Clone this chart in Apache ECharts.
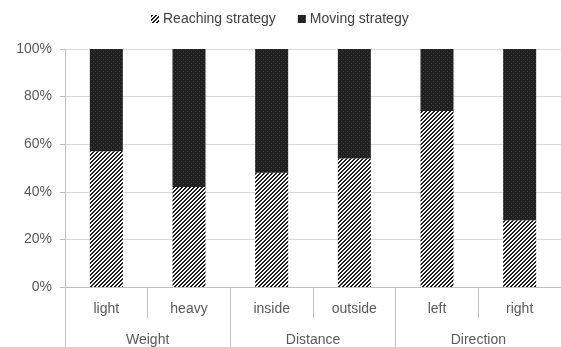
<!DOCTYPE html>
<html>
<head>
<meta charset="utf-8">
<script src="https://cdn.jsdelivr.net/npm/echarts@6/dist/echarts.min.js"></script>
<style>
  html, body { margin: 0; padding: 0; background: #fff; }
  #chart { width: 561px; height: 347px; }
</style>
</head>
<body>
<div id="chart"></div>
<script>
// Conditions and their grouping
const categories = ['light', 'heavy', 'inside', 'outside', 'left', 'right'];
const groups = ['Weight', 'Distance', 'Direction'];
// Share of trials (%) per strategy
const reaching = [57, 42, 48, 54, 74, 28];
const moving = [43, 58, 52, 46, 26, 72];
const yTicks = [0, 20, 40, 60, 80, 100];

// Diagonal hatch tile
function hatchPattern() {
  const c = document.createElement('canvas');
  c.width = 4; c.height = 4;
  const ctx = c.getContext('2d');
  ctx.fillStyle = '#ffffff';
  ctx.fillRect(0, 0, 4, 4);
  ctx.fillStyle = '#1e1e1e';
  for (let x = 0; x < 4; x++) {
    for (let y = 0; y < 4; y++) {
      if ((x + y) % 4 === 0 || (x + y) % 4 === 1) ctx.fillRect(x, y, 1, 1);
    }
  }
  return c;
}
// Dark fill with faint dots
function dotPattern() {
  const c = document.createElement('canvas');
  c.width = 4; c.height = 4;
  const ctx = c.getContext('2d');
  ctx.fillStyle = '#202020';
  ctx.fillRect(0, 0, 4, 4);
  ctx.fillStyle = '#3c3c3c';
  ctx.fillRect(1, 1, 1, 1);
  ctx.fillRect(3, 3, 1, 1);
  return c;
}

const font = 'Liberation Sans';
const chart = echarts.init(document.getElementById('chart'), null, { renderer: 'canvas' });
chart.setOption({
  animation: false,
  backgroundColor: '#ffffff',
  textStyle: { fontFamily: font },
  legend: {
    top: 7,
    left: 146,
    itemWidth: 8,
    itemHeight: 8,
    itemGap: 22,
    icon: 'rect',
    textStyle: { fontFamily: font, fontSize: 14, color: '#404040', padding: [0, 0, 0, -1] },
    data: ['Reaching strategy', 'Moving strategy']
  },
  grid: { left: 65, right: 0, top: 49, bottom: 60 },
  xAxis: [
    {
      type: 'category',
      data: categories,
      position: 'bottom',
      axisLine: { lineStyle: { color: '#bfbfbf', width: 1 } },
      axisTick: { show: true, interval: 0, length: 31, lineStyle: { color: '#bfbfbf' } },
      axisLabel: { interval: 0, margin: 15, fontSize: 14, color: '#595959', fontFamily: font }
    },
    {
      type: 'category',
      data: groups,
      position: 'bottom',
      offset: 31,
      axisLine: { show: false },
      axisTick: { show: true, interval: 0, length: 30, lineStyle: { color: '#bfbfbf' } },
      axisLabel: { interval: 0, margin: 15, fontSize: 14, color: '#595959', fontFamily: font }
    }
  ],
  yAxis: {
    type: 'value',
    min: yTicks[0],
    max: yTicks[yTicks.length - 1],
    interval: yTicks[1] - yTicks[0],
    axisLine: { show: true, lineStyle: { color: '#bfbfbf' } },
    axisTick: { show: true, length: 5, lineStyle: { color: '#bfbfbf' } },
    axisLabel: { formatter: '{value}%', fontSize: 14, color: '#595959', margin: 13, fontFamily: font },
    splitLine: { lineStyle: { color: '#d9d9d9' } }
  },
  series: [
    {
      name: 'Reaching strategy',
      type: 'bar',
      stack: 'total',
      xAxisIndex: 0,
      barWidth: 33,
      data: reaching,
      itemStyle: { color: { image: hatchPattern(), repeat: 'repeat' } }
    },
    {
      name: 'Moving strategy',
      type: 'bar',
      stack: 'total',
      xAxisIndex: 0,
      barWidth: 33,
      data: moving,
      itemStyle: { color: { image: dotPattern(), repeat: 'repeat' } }
    }
  ]
});
</script>
</body>
</html>
